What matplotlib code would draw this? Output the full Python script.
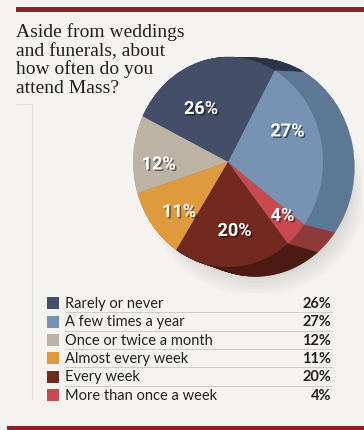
import matplotlib
matplotlib.use('Agg')
import matplotlib.pyplot as plt
import matplotlib.patheffects as pe
from matplotlib.patches import Ellipse
import numpy as np

# data
categories = ["Rarely or never", "A few times a year", "Once or twice a month",
              "Almost every week", "Every week", "More than once a week"]
values = [26, 27, 12, 11, 20, 4]
colors = ["#454e68", "#7792b2", "#bdb3a5", "#e09a3e", "#722a20", "#c84a50"]
side_colors = ["#2c3449", "#5d7895", "#8f8679", "#a86f2a", "#4c1a13", "#8e3a3a"]
# order of slices counterclockwise around the pie
pie_order = [0, 2, 3, 4, 5, 1]
title_lines = ["Aside from weddings", "and funerals, about",
               "how often do you", "attend Mass?"]

W, H = 364, 431
fig = plt.figure(figsize=(W / 100, H / 100), dpi=100)
fig.patch.set_facecolor("#f5f3ef")

# overlay axes in pixel units
ov = fig.add_axes([0, 0, 1, 1])
ov.set_xlim(0, W)
ov.set_ylim(H, 0)
ov.axis('off')

# red bars top and bottom
ov.fill_between([16, W], 8, 13, color="#8b2326", lw=0)
ov.fill_between([7, W], 427, 431, color="#8b2326", lw=0)
# faint frame line on left
ov.plot([16, 32, 32], [105, 105, 400], color="#e2dfda", lw=0.8)

# title
for i, line in enumerate(title_lines):
    ov.text(16, 37 + i * 18.7, line, fontsize=14, family="Liberation Serif",
            color="#222222", va="baseline", ha="left")

# pie axes: 1 unit = 95 px horizontally, 105 px vertically
cx, cy = 228, 163
rx, ry = 95, 105
x0, x1 = 120, 362
y0, y1 = 45, 295
pax = fig.add_axes([x0 / W, 1 - y1 / H, (x1 - x0) / W, (y1 - y0) / H])

# soft shadow under the pie
for k in range(14):
    pax.add_patch(Ellipse((0.3, -0.3), 2.3 - k * 0.06, 1.95 - k * 0.06,
                          color="#000000", alpha=0.015, lw=0, zorder=0))

vals = [values[i] for i in pie_order]
face = [colors[i] for i in pie_order]
side = [side_colors[i] for i in pie_order]
start = 60.6

# extrusion: stacked copies from back to front
steps = 40
for t in np.linspace(1, 0, steps, endpoint=False):
    c = (0.29 * t, -0.05 * t)
    r = 1 + 0.04 * t
    wedges, _ = pax.pie(vals, colors=side, startangle=start, counterclock=True,
                        center=c, radius=r, wedgeprops=dict(lw=0.3))
    for w, col in zip(wedges, side):
        w.set_edgecolor(col)
        w.set_zorder(1)

wedges, _ = pax.pie(vals, colors=face, startangle=start, counterclock=True,
                    radius=1, wedgeprops=dict(lw=0))
for w in wedges:
    w.set_zorder(2)
pax.set_aspect('auto')
pax.set_xlim((x0 - cx) / rx, (x1 - cx) / rx)
pax.set_ylim((cy - y1) / ry, (cy - y0) / ry)
pax.axis('off')

# percent labels
label_dist = [0.58, 0.73, 0.70, 0.66, 0.77, 0.69]
label_shift = [12, 6, 5.5, 3, 2, 13]
for w, v, d, s in zip(wedges, vals, label_dist, label_shift):
    ang = np.deg2rad((w.theta1 + w.theta2) / 2 + s)
    pax.text(d * np.cos(ang), d * np.sin(ang), f"{v}%", ha="center", va="center",
             color="white", fontsize=13, fontweight="bold", family="Roboto",
             path_effects=[pe.SimplePatchShadow(offset=(1.2, -1.2), shadow_rgbFace="black", alpha=0.45),
                           pe.Normal()],
             zorder=5)

# legend
row_y = [304, 322.5, 341, 359, 377.5, 396]
for i, (cat, v) in enumerate(zip(categories, values)):
    y = row_y[i]
    ov.fill_between([47, 59], y - 6, y + 6, color=colors[i], lw=0)
    ov.text(65, y, cat, fontsize=10.5, family="Lato", color="#222222",
            va="center", ha="left")
    ov.text(331, y, f"{v}%", fontsize=10.5, family="Lato", fontweight="bold",
            color="#222222", va="center", ha="right")
    if i < len(categories) - 1:
        ov.plot([65, 332], [y + 9.3, y + 9.3], color="#cfcbc5", lw=0.7)

fig.savefig("out.png", dpi=100, facecolor=fig.get_facecolor())
